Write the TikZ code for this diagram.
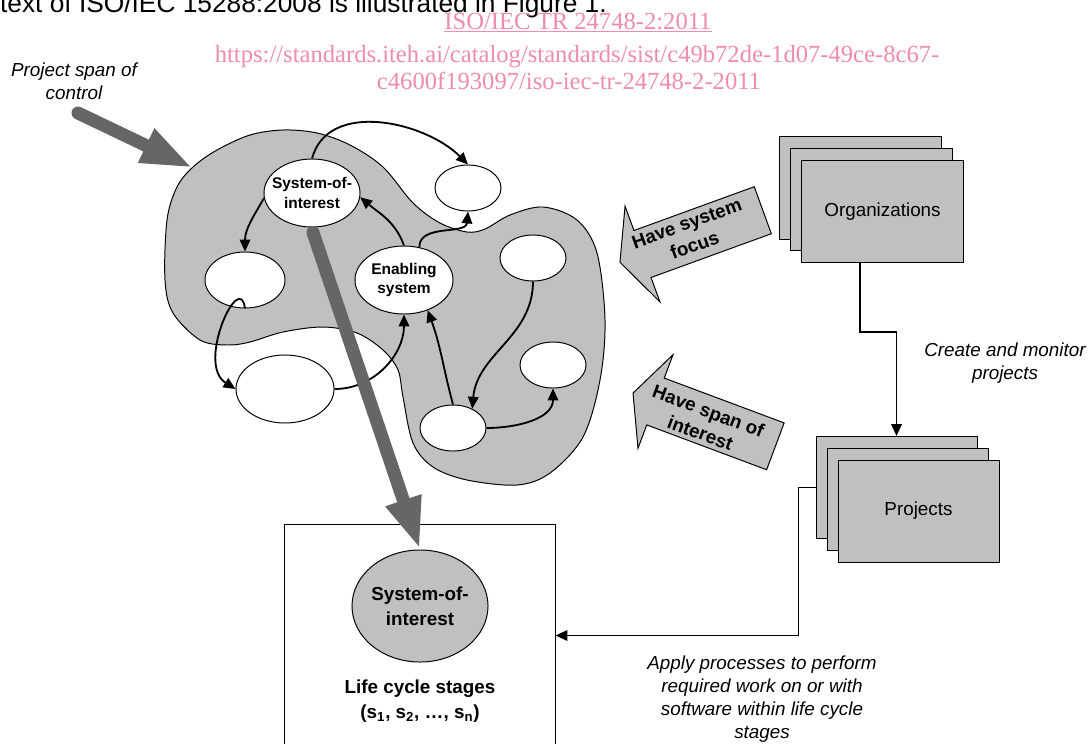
\documentclass[tikz,border=0pt]{standalone}
\usepackage{fontspec}
\setmainfont{Liberation Sans}
\newfontfamily\wmfont{Liberation Serif}
\usetikzlibrary{shapes.geometric,arrows.meta,positioning,calc}
\definecolor{blobgray}{RGB}{192,192,192}
\definecolor{bargray}{RGB}{102,102,102}
\definecolor{wmpink}{RGB}{238,140,170}
\tikzset{
  conn/.style={line width=1.3pt, -{Triangle[length=8.5pt,width=7.5pt]}},
  bigarrow/.style={draw=bargray, line width=0.325cm, line cap=round, -{Triangle[length=1.3cm,width=0.85cm]}},
  sysnode/.style={ellipse, draw, fill=white, line width=0.7pt, inner sep=0pt},
  stackbox/.style={draw, fill=blobgray, line width=0.7pt, minimum width=4.025cm, minimum height=2.55cm, font=\fontsize{13.4}{16}\selectfont},
  eltext/.style={font=\fontsize{11}{13.7}\selectfont\bfseries, align=center},
  bigtext/.style={font=\fontsize{13.4}{17.5}\selectfont\bfseries, align=center},
  arrowtext/.style={font=\fontsize{13.4}{16.5}\selectfont\bfseries, align=center},
  lbl/.style={font=\fontsize{13.4}{16.2}\selectfont\itshape, align=center},
  wm/.style={font=\wmfont\fontsize{17.5}{20}\selectfont, text=wmpink, inner sep=0pt}
}
\begin{document}
\begin{tikzpicture}[x=0.025cm, y=-0.025cm]
\useasboundingbox (0,0) rectangle (1090,743);

% body text and watermark
\node[font=\fontsize{18.7}{22}\selectfont, anchor=base east, inner sep=0pt] (bodytxt) at (607,13) {text of ISO/IEC 15288:2008 is illustrated in Figure 1.};
\node[wm, anchor=base] (wm1) at (578,29) {\underline{ISO/IEC TR 24748-2:2011}};
\node[wm, anchor=base] (wm2) at (577,62) {https://standards.iteh.ai/catalog/standards/sist/c49b72de-1d07-49ce-8c67-};
\node[wm, anchor=base] (wm3) at (569,89) {c4600f193097/iso-iec-tr-24748-2-2011};

% span of interest (blob)
\draw[fill=blobgray, line width=0.7pt] plot[smooth cycle, tension=0.55] coordinates {
  (193,167) (217,150) (250,135) (283,130) (317,133) (350,145) (383,167)
  (413,203) (440,223) (467,232) (485,229) (510,215) (543,207) (577,220)
  (597,253) (605,320) (600,380) (583,437) (550,473) (517,485) (467,480)
  (433,467) (413,443) (403,397) (398,370) (383,350) (357,333) (323,327)
  (283,332) (250,342) (227,345) (200,340) (173,313) (165,280) (167,220) (177,187)};

% systems
\node[sysnode, minimum width=2.4cm, minimum height=1.7cm, label={[eltext]center:{System-of-\\interest}}] (soi) at (312,193) {};
\node[sysnode, minimum width=1.65cm, minimum height=1.15cm] (top) at (468,188) {};
\node[sysnode, minimum width=2cm, minimum height=1.4cm] (left) at (245,280) {};
\node[sysnode, minimum width=2.45cm, minimum height=1.7cm, label={[eltext]center:{Enabling\\system}}] (ena) at (404,280) {};
\node[sysnode, minimum width=1.65cm, minimum height=1.15cm] (tr) at (533,258) {};
\node[sysnode, minimum width=1.65cm, minimum height=1.15cm] (br) at (553,365) {};
\node[sysnode, minimum width=1.65cm, minimum height=1.15cm] (bm) at (453,428) {};
\node[sysnode, minimum width=2.45cm, minimum height=1.7cm] (bl) at (285,389) {};

% interactions
\draw[conn] (soi.north) to[out=75,in=135] (top.north);
\draw[conn] (soi.186) to[out=240,in=90] (left.north);
\draw[conn] (ena.north) to[out=110,in=-40] (soi.-5);
\draw[conn] (ena.65) to[out=90,in=-95] (top.south);
\draw[conn] (left.south) .. controls +(-5,-40) and +(-40,-25) .. (bl.west);
\draw[conn] (bl.east) to[out=0,in=-90] (ena.south);
\draw[conn] (bm.90) to[out=105,in=-70] (ena.-52);
\draw[conn] (tr.south) to[out=-90,in=85] (bm.45);
\draw[conn] (bm.east) to[out=0,in=-90] (br.south);

% life cycle box
\node[draw, line width=0.7pt, minimum width=6.75cm, minimum height=5.525cm] (lcbox) at (420,635.5) {};
\node[ellipse, draw, fill=blobgray, line width=0.7pt, inner sep=0pt, minimum width=3.4cm, minimum height=2.8cm, label={[bigtext]center:{System-of-\\interest}}] (lsoi) at (420,606) {};
\node[bigtext] (stages) at (420,701) {Life cycle stages\\(s\textsubscript{1}, s\textsubscript{2}, …, s\textsubscript{n})};

% project span of control
\node[lbl] (spanlbl) at (74,81) {Project span of\\control};
\coordinate (spanstart) at (78,113);
\coordinate (blobtip) at (193,168);
\draw[bigarrow] (spanstart) -- (blobtip);
\draw[bigarrow] ($(soi.south)+(1,5)$) -- (lsoi.north);

% organizations and projects
\node[stackbox] (orgC) at (860.5,188) {};
\node[stackbox] (orgB) at (871.5,199.5) {};
\node[stackbox] (org) at (882.5,211.5) {Organizations};
\node[stackbox] (projC) at (896.5,487.5) {};
\node[stackbox] (projB) at (907.5,499.5) {};
\node[stackbox] (proj) at (918.5,511) {Projects};
\draw[conn] ($(org.south west)!0.36!(org.south east)$) -- ++(0,69) -| (projC.north);
\draw[conn] (projC.west) -- ++(-17,0) |- (lcbox.east);
\node[lbl] (createlbl) at (1005,363.5) {Create and monitor\\projects};
\node[lbl] (applylbl) at (762,699) {Apply processes to perform\\required work on or with\\software within life cycle\\stages};

% block arrows
\begin{scope}[shift={(642.5,254)}, rotate=20]
  \draw[fill=blobgray, line width=0.7pt] (-24,0) -- (0,-51) -- (0,-25) -- (128,-25) -- (128,25) -- (0,25) -- (0,51) -- cycle;
  \node[arrowtext, rotate=20] (focus) at (52,-2) {Have system\\focus};
\end{scope}
\begin{scope}[shift={(655.5,401.5)}, rotate=-20.5]
  \draw[fill=blobgray, line width=0.7pt] (-24,0) -- (0,-50) -- (0,-25) -- (128,-25) -- (128,25) -- (0,25) -- (0,50) -- cycle;
  \node[arrowtext, rotate=-20.5] (interest) at (53,2) {Have span of\\interest};
\end{scope}
\end{tikzpicture}
\end{document}
